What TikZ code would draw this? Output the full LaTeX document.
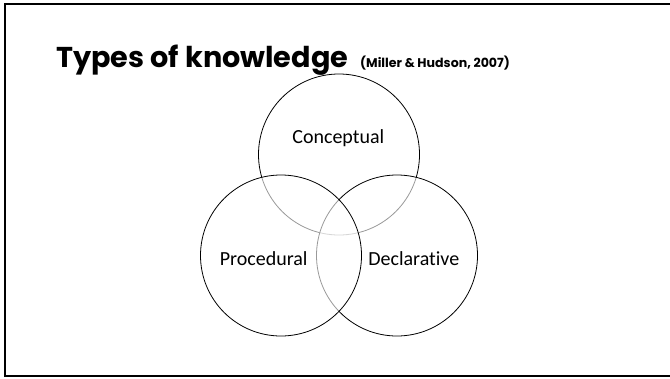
\documentclass[tikz,border=0pt]{standalone}
\usepackage{fontspec}
\setmainfont{Carlito}[Ligatures=NoCommon]
\newfontfamily\headfont{Poppins}
\usetikzlibrary{positioning}

\tikzset{
  venn/.style={circle, draw=black, line width=0.8pt, fill=white, fill opacity=0.6,
    minimum size=161pt, inner sep=0pt},
  kind/.style={font=\fontsize{20}{24}\selectfont, anchor=base, inner sep=0pt},
}

\begin{document}
\begin{tikzpicture}[x=1pt, y=-1pt]
  \useasboundingbox (0,0) rectangle (670,378);
  \draw[line width=2pt] (5,3.8) rectangle (674,375.5);

  % Title
  \node[anchor=base west, inner sep=0pt, font=\headfont\bfseries\fontsize{28.7}{34}\selectfont] (title) at (56,67) {Types of knowledge};
  \node[anchor=base west, inner sep=0pt, font=\headfont\bfseries\fontsize{12.6}{15}\selectfont] (cite) at (360,67) {(Miller \& Hudson, 2007)};

  % Circles
  \node[venn] (con) at (339,154.5) {};
  \node[venn] (decl) at (397,255.5) {};
  \node[venn] (proc) at (281,255.5) {};

  % Labels
  \node[kind] (conlbl) at (338.3,143.3) {Conceptual};
  \node[kind] (proclbl) at (263.7,265.7) {Procedural};
  \node[kind] (decllbl) at (413.8,265.7) {Declarative};
\end{tikzpicture}
\end{document}
